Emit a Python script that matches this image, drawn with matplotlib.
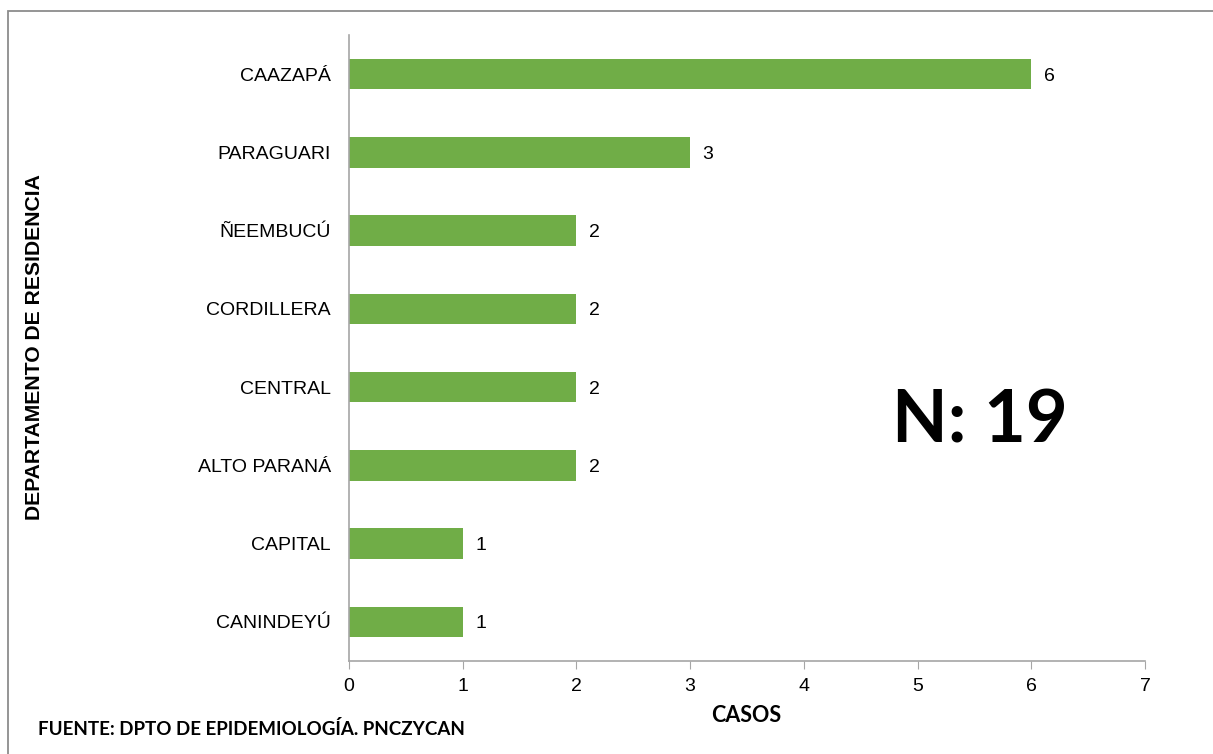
import matplotlib
matplotlib.use("Agg")
import matplotlib.pyplot as plt
from matplotlib.patches import Rectangle

categories = ["CANINDEYÚ", "CAPITAL", "ALTO PARANÁ", "CENTRAL", "CORDILLERA", "ÑEEMBUCÚ", "PARAGUARI", "CAAZAPÁ"]
casos = [1, 1, 2, 2, 2, 2, 3, 6]
xticks = [0, 1, 2, 3, 4, 5, 6, 7]

W, H = 1213, 754
fig = plt.figure(figsize=(W / 100, H / 100), dpi=100)
fig.patch.set_facecolor("white")

SANS = ["Liberation Sans", "DejaVu Sans"]

# outer border (partially cut off at right/bottom)
fig.patches.append(Rectangle((8 / W, -0.1), 1.2, 1 - 11 / H + 0.1, transform=fig.transFigure,
                             fill=False, edgecolor="#8C8C8C", linewidth=1.3))

ax = fig.add_axes([349 / W, 1 - 661 / H, (1145 - 349) / W, (661 - 35) / H])
y = list(range(len(categories)))
ax.barh(y, casos, height=0.39, color="#70AD47")
ax.set_ylim(-0.5, len(categories) - 0.5)
ax.set_xlim(0, 7)
ax.set_xticks(xticks)
ax.set_xticklabels([str(t) for t in xticks], fontfamily=SANS, fontsize=14)
ax.set_yticks(y)
ax.set_yticklabels(categories, fontfamily=SANS, fontsize=14)
ax.tick_params(axis="y", length=0, pad=13)
ax.tick_params(axis="x", length=6, color="#A6A6A6", direction="out", pad=6)
for s in ["top", "right"]:
    ax.spines[s].set_visible(False)
for s in ["left", "bottom"]:
    ax.spines[s].set_color("#A6A6A6")
    ax.spines[s].set_linewidth(1.2)

for yi, v in zip(y, casos):
    ax.annotate(str(v), (v, yi), xytext=(9, -1.5), textcoords="offset points",
                va="center", ha="left", fontfamily=SANS, fontsize=14)

fig.text(35 / W, 1 - 347 / H, "DEPARTAMENTO DE RESIDENCIA", rotation=90, ha="center", va="center",
         fontfamily=SANS, fontweight="bold", fontsize=15.2)
fig.text(746 / W, 1 - 716 / H, "CASOS", ha="center", va="center",
         fontfamily="Lato", fontweight="bold", fontsize=15.5)
fig.text(38 / W, 1 - 729 / H, "FUENTE: DPTO DE EPIDEMIOLOGÍA. PNCZYCAN", ha="left", va="center",
         fontfamily="Lato", fontweight="bold", fontsize=13.5)
fig.text(980 / W, 1 - 422 / H, "N: 19", ha="center", va="center",
         fontfamily="Lato", fontweight="bold", fontsize=52)

fig.savefig("out.png", dpi=100)
